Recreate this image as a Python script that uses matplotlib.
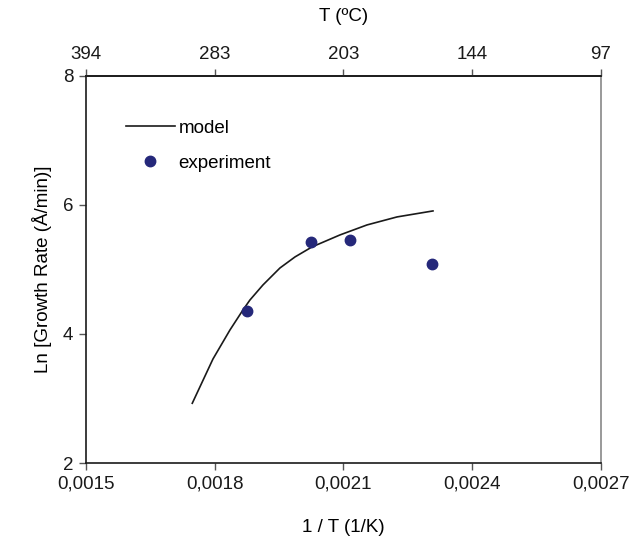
import matplotlib.pyplot as plt
from matplotlib.ticker import FuncFormatter

plt.rcParams['font.family'] = ['Liberation Sans', 'DejaVu Sans']
plt.rcParams['font.size'] = 13.5

# model curve (1/T vs ln growth rate)
model_x = [0.0017477, 0.0017959, 0.0018355, 0.0018658, 0.0018821, 0.0019124, 0.001952,
           0.001987, 0.0020266, 0.0020918, 0.0021548, 0.0022247, 0.0023085]
model_y = [2.926, 3.612, 4.062, 4.372, 4.527, 4.760, 5.023,
           5.194, 5.349, 5.535, 5.690, 5.814, 5.907]

# experimental points
exp_x = [0.001875, 0.002024, 0.002114, 0.002306]
exp_y = [4.361, 5.431, 5.457, 5.085]

x_ticks = [0.0015, 0.0018, 0.0021, 0.0024, 0.0027]
top_labels = ['394', '283', '203', '144', '97']
y_ticks = [2, 4, 6, 8]

fig = plt.figure(figsize=(6.32, 5.46), dpi=100)
ax = fig.add_axes([0.136, 0.152, 0.815, 0.709])

ax.plot(model_x, model_y, color='#1a1a1a', lw=1.2, label='model')
ax.plot(exp_x, exp_y, 'o', color='#25287a', ms=7.5, label='experiment')

ax.set_xlim(0.0015, 0.0027)
ax.set_ylim(2, 8)
ax.set_xticks(x_ticks)
ax.set_yticks(y_ticks)
ax.xaxis.set_major_formatter(FuncFormatter(lambda v, p: f'{v:.4f}'.replace('.', ',')))
ax.set_xlabel('1 / T (1/K)', labelpad=19)
ax.set_ylabel('Ln [Growth Rate (Å/min)]', labelpad=8)

for s in ['left', 'bottom', 'top']:
    ax.spines[s].set_color('#1a1a1a')
    ax.spines[s].set_linewidth(1.2)
ax.spines['right'].set_color('#888888')
ax.spines['right'].set_linewidth(1.2)
ax.tick_params(direction='out', length=5, width=1, color='#555555', labelcolor='#1a1a1a', pad=4)

top = ax.twiny()
top.set_xlim(ax.get_xlim())
top.set_xticks(x_ticks)
top.set_xticklabels(top_labels)
top.set_xlabel('T (ºC)', labelpad=18)
for s in ['left', 'bottom', 'right']:
    top.spines[s].set_visible(False)
top.spines['top'].set_color('#1a1a1a')
top.spines['top'].set_linewidth(1.2)
top.tick_params(direction='out', length=5, width=1, color='#555555', labelcolor='#1a1a1a', pad=4)

ax.legend(loc='upper left', bbox_to_anchor=(0.045, 0.93), frameon=False,
          handlelength=2.6, handletextpad=0.2, labelspacing=0.95)

fig.savefig('out.png', dpi=100)
